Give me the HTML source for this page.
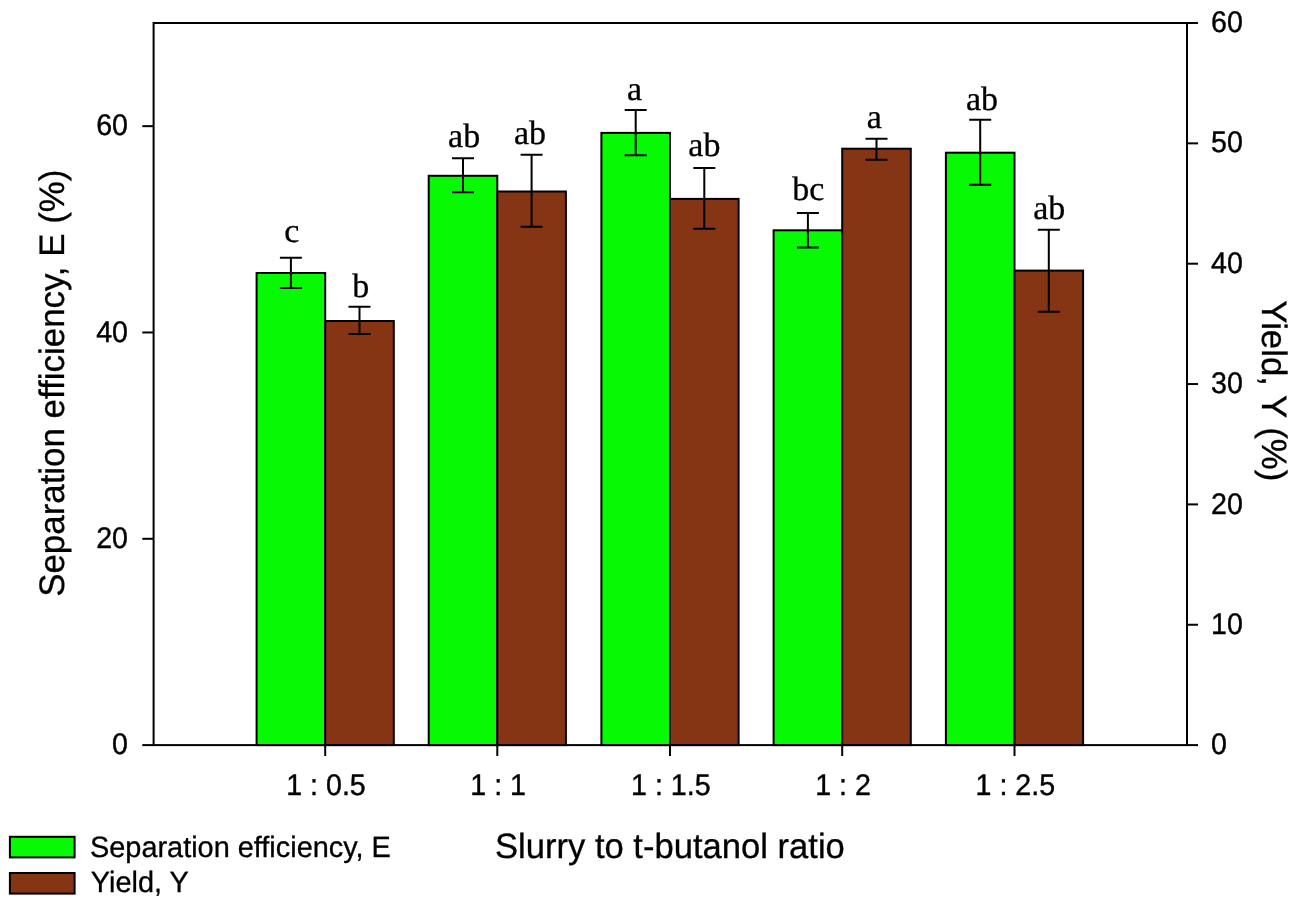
<!DOCTYPE html>
<html><head><meta charset="utf-8"><title>chart</title>
<style>html,body{margin:0;padding:0;background:#fff;}svg{display:block;will-change:transform;text-rendering:geometricPrecision;}.s{font-family:"Liberation Sans",sans-serif;fill:#000;}.f{font-family:"Liberation Serif",serif;fill:#000;}</style></head><body>
<svg width="1301" height="909" viewBox="0 0 1301 909">
<rect x="0" y="0" width="1301" height="909" fill="#ffffff"/>
<g stroke="#000" stroke-width="2" stroke-linejoin="miter">
<rect x="256.60" y="273.00" width="68.60" height="472.10" fill="#07f904"/>
<rect x="325.20" y="321.00" width="68.60" height="424.10" fill="#853414"/>
<rect x="428.70" y="175.80" width="68.60" height="569.30" fill="#07f904"/>
<rect x="497.30" y="191.50" width="68.60" height="553.60" fill="#853414"/>
<rect x="601.40" y="132.90" width="68.60" height="612.20" fill="#07f904"/>
<rect x="670.00" y="198.90" width="68.60" height="546.20" fill="#853414"/>
<rect x="773.60" y="230.30" width="68.60" height="514.80" fill="#07f904"/>
<rect x="842.20" y="148.70" width="68.60" height="596.40" fill="#853414"/>
<rect x="945.90" y="152.70" width="68.60" height="592.40" fill="#07f904"/>
<rect x="1014.50" y="270.60" width="68.60" height="474.50" fill="#853414"/>
</g>
<g stroke="#000" stroke-width="2" fill="none">
<path d="M290.90 257.80V288.00M279.90 257.80H301.90M279.90 288.00H301.90"/>
<path d="M359.50 306.80V334.00M348.50 306.80H370.50M348.50 334.00H370.50"/>
<path d="M463.00 158.20V192.30M452.00 158.20H474.00M452.00 192.30H474.00"/>
<path d="M531.60 154.70V226.70M520.60 154.70H542.60M520.60 226.70H542.60"/>
<path d="M635.70 110.10V155.20M624.70 110.10H646.70M624.70 155.20H646.70"/>
<path d="M704.30 168.10V228.70M693.30 168.10H715.30M693.30 228.70H715.30"/>
<path d="M807.90 213.00V247.50M796.90 213.00H818.90M796.90 247.50H818.90"/>
<path d="M876.50 138.70V159.70M865.50 138.70H887.50M865.50 159.70H887.50"/>
<path d="M980.20 119.80V184.80M969.20 119.80H991.20M969.20 184.80H991.20"/>
<path d="M1048.80 229.80V311.80M1037.80 229.80H1059.80M1037.80 311.80H1059.80"/>
</g>
<g stroke="#000" stroke-width="2" fill="none" stroke-linecap="butt">
<rect x="153.60" y="23.00" width="1033.40" height="722.10"/>
<path d="M142.30 745.10H153.60"/>
<path d="M142.30 538.79H153.60"/>
<path d="M142.30 332.47H153.60"/>
<path d="M142.30 126.16H153.60"/>
<path d="M1187.00 745.10H1198.00"/>
<path d="M1187.00 624.75H1198.00"/>
<path d="M1187.00 504.40H1198.00"/>
<path d="M1187.00 384.05H1198.00"/>
<path d="M1187.00 263.70H1198.00"/>
<path d="M1187.00 143.35H1198.00"/>
<path d="M1187.00 23.00H1198.00"/>
<path d="M325.20 745.10V756.00"/>
<path d="M497.30 745.10V756.00"/>
<path d="M670.00 745.10V756.00"/>
<path d="M842.20 745.10V756.00"/>
<path d="M1014.50 745.10V756.00"/>
</g>
<g class="s" font-size="28.6" stroke="#000" stroke-width="0.4">
<text transform="translate(128.00 754.20) scale(1 1.040)" text-anchor="end">0</text>
<text transform="translate(128.00 547.89) scale(1 1.040)" text-anchor="end">20</text>
<text transform="translate(128.00 341.57) scale(1 1.040)" text-anchor="end">40</text>
<text transform="translate(128.00 135.26) scale(1 1.040)" text-anchor="end">60</text>
<text transform="translate(1211.00 754.20) scale(1 1.040)" text-anchor="start">0</text>
<text transform="translate(1211.00 633.85) scale(1 1.040)" text-anchor="start">10</text>
<text transform="translate(1211.00 513.50) scale(1 1.040)" text-anchor="start">20</text>
<text transform="translate(1211.00 393.15) scale(1 1.040)" text-anchor="start">30</text>
<text transform="translate(1211.00 272.80) scale(1 1.040)" text-anchor="start">40</text>
<text transform="translate(1211.00 152.45) scale(1 1.040)" text-anchor="start">50</text>
<text transform="translate(1211.00 32.10) scale(1 1.040)" text-anchor="start">60</text>
<text transform="translate(326.00 795.00) scale(1 1.040)" text-anchor="middle">1 : 0.5</text>
<text transform="translate(498.10 795.00) scale(1 1.040)" text-anchor="middle">1 : 1</text>
<text transform="translate(670.80 795.00) scale(1 1.040)" text-anchor="middle">1 : 1.5</text>
<text transform="translate(843.00 795.00) scale(1 1.040)" text-anchor="middle">1 : 2</text>
<text transform="translate(1015.30 795.00) scale(1 1.040)" text-anchor="middle">1 : 2.5</text>
</g>
<g class="f" font-size="34" stroke="#000" stroke-width="0.3">
<text transform="translate(291.80 242.00)" text-anchor="middle">c</text>
<text transform="translate(464.10 146.80)" text-anchor="middle">ab</text>
<text transform="translate(634.50 99.90)" text-anchor="middle">a</text>
<text transform="translate(808.40 199.50)" text-anchor="middle">bc</text>
<text transform="translate(982.00 109.70)" text-anchor="middle">ab</text>
<text transform="translate(360.70 297.00)" text-anchor="middle">b</text>
<text transform="translate(530.00 144.20)" text-anchor="middle">ab</text>
<text transform="translate(704.40 156.20)" text-anchor="middle">ab</text>
<text transform="translate(874.20 127.90)" text-anchor="middle">a</text>
<text transform="translate(1049.20 218.70)" text-anchor="middle">ab</text>
</g>
<g class="s" font-size="34.6" stroke="#000" stroke-width="0.3">
<text transform="translate(669.90 858.40) scale(1 1.015)" text-anchor="middle">Slurry to t-butanol ratio</text>
</g>
<g class="s" font-size="34.9" stroke="#000" stroke-width="0.3">
<text transform="translate(64.20 383.20) rotate(-90) scale(1 1.015)" text-anchor="middle">Separation efficiency, E (%)</text>
</g>
<g class="s" font-size="34.8" stroke="#000" stroke-width="0.3">
<text transform="translate(1262.40 390.80) rotate(90) scale(1 1.015)" text-anchor="middle">Yield, Y (%)</text>
</g>
<g stroke="#000" stroke-width="2">
<rect x="9.9" y="836.8" width="64.7" height="20.6" fill="#07f904"/>
<rect x="9.9" y="873.0" width="64.7" height="20.6" fill="#853414"/>
</g>
<g class="s" font-size="28.9" stroke="#000" stroke-width="0.3">
<text transform="translate(90.00 856.50) scale(1 1.015)" text-anchor="start">Separation efficiency, E</text>
<text transform="translate(90.80 892.40) scale(1 1.015)" text-anchor="start">Yield, Y</text>
</g>
</svg></body></html>
